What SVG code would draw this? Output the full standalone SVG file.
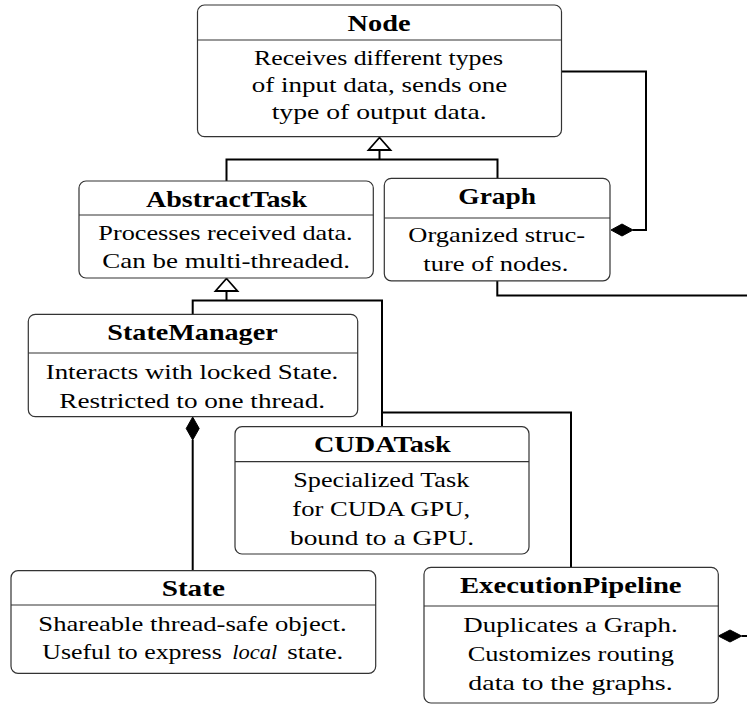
<svg xmlns="http://www.w3.org/2000/svg" width="747" height="704" viewBox="0 0 747 704">
<style>
.box{fill:#fff;stroke:#333;stroke-width:1.2}
.div{stroke:#333;stroke-width:1.2}
.t{font-family:'Liberation Serif','Times New Roman','DejaVu Serif',serif;font-weight:bold;font-size:23px;text-anchor:middle;fill:#000}
.b{font-family:'Liberation Serif','Times New Roman','DejaVu Serif',serif;font-size:21px;text-anchor:middle;fill:#000}
.s{font-family:'Liberation Serif','Times New Roman','DejaVu Serif',serif;font-size:21px;fill:#000}
.i{font-style:italic}
.c{fill:none;stroke:#000;stroke-width:2}
.tri{fill:#fff;stroke:#000;stroke-width:1.8;stroke-linejoin:miter}
.dia{fill:#000;stroke:#000;stroke-width:1}
</style>
<rect width="747" height="704" fill="#fff"/>
<g id="connectors">
<path class="c" d="M226.5,181 V159.5 H497.5 V178.3"/>
<path class="c" d="M379.5,159.5 V150"/>
<polygon class="tri" points="379.5,137.5 368.5,150 390.5,150"/>
<path class="c" d="M192.7,314.3 V300.5 H382 V426.7"/>
<path class="c" d="M382,412.5 H571 V567.3"/>
<path class="c" d="M226.5,300.5 V291"/>
<polygon class="tri" points="226.5,278.5 215.5,291 237.5,291"/>
<path class="c" d="M561.5,71.5 H646 V230 H633"/>
<polygon class="dia" points="611,230 622,224 633,230 622,236"/>
<polygon class="dia" points="192.7,417 199.2,428.5 192.7,440 186.2,428.5"/>
<path class="c" d="M192.7,440 V570.7"/>
<path class="c" d="M497.3,281 V295.5 H747"/>
<polygon class="dia" points="718.3,636 730,630 741.7,636 730,642"/>
<path class="c" d="M741.7,636 H747"/>
</g>
<g id="node-Node">
<rect class="box" x="197.5" y="5" width="364" height="131.7" rx="7"/>
<line class="div" x1="197.5" y1="40" x2="561.5" y2="40"/>
<text class="t" x="379" y="30.7" textLength="63" lengthAdjust="spacingAndGlyphs">Node</text>
<text class="b" x="378.5" y="64.5" textLength="249" lengthAdjust="spacingAndGlyphs">Receives different types</text>
<text class="b" x="379.5" y="91.5" textLength="255.6" lengthAdjust="spacingAndGlyphs">of input data, sends one</text>
<text class="b" x="379.2" y="119" textLength="215" lengthAdjust="spacingAndGlyphs">type of output data.</text>
</g>
<g id="node-AbstractTask">
<rect class="box" x="79" y="181" width="294.3" height="97" rx="7"/>
<line class="div" x1="79" y1="215" x2="373.3" y2="215"/>
<text class="t" x="226.5" y="206.7" textLength="161" lengthAdjust="spacingAndGlyphs">AbstractTask</text>
<text class="b" x="225.5" y="240" textLength="254.4" lengthAdjust="spacingAndGlyphs">Processes received data.</text>
<text class="b" x="226.2" y="268.3" textLength="247.7" lengthAdjust="spacingAndGlyphs">Can be multi-threaded.</text>
</g>
<g id="node-Graph">
<rect class="box" x="384.3" y="178.3" width="225.7" height="102.5" rx="7"/>
<line class="div" x1="384.3" y1="218" x2="610" y2="218"/>
<text class="t" x="497.2" y="204" textLength="77.7" lengthAdjust="spacingAndGlyphs">Graph</text>
<text class="b" x="496.7" y="242" textLength="176.7" lengthAdjust="spacingAndGlyphs">Organized struc-</text>
<text class="b" x="495.8" y="270.5" textLength="145" lengthAdjust="spacingAndGlyphs">ture of nodes.</text>
</g>
<g id="node-StateManager">
<rect class="box" x="28.3" y="314.3" width="329.4" height="102.4" rx="7"/>
<line class="div" x1="28.3" y1="353" x2="357.7" y2="353"/>
<text class="t" x="192.5" y="340" textLength="170.4" lengthAdjust="spacingAndGlyphs">StateManager</text>
<text class="b" x="192" y="379" textLength="292.6" lengthAdjust="spacingAndGlyphs">Interacts with locked State.</text>
<text class="b" x="192.2" y="408.3" textLength="265.7" lengthAdjust="spacingAndGlyphs">Restricted to one thread.</text>
</g>
<g id="node-CUDATask">
<rect class="box" x="235" y="426.7" width="294" height="127.3" rx="7"/>
<line class="div" x1="235" y1="461.7" x2="529" y2="461.7"/>
<text class="t" x="382.3" y="452.3" textLength="136.7" lengthAdjust="spacingAndGlyphs">CUDATask</text>
<text class="b" x="381.3" y="486.7" textLength="176" lengthAdjust="spacingAndGlyphs">Specialized Task</text>
<text class="b" x="381.2" y="515.5" textLength="177.7" lengthAdjust="spacingAndGlyphs">for CUDA GPU,</text>
<text class="b" x="382" y="545" textLength="184" lengthAdjust="spacingAndGlyphs">bound to a GPU.</text>
</g>
<g id="node-ExecutionPipeline">
<rect class="box" x="424" y="567.3" width="294.3" height="135.7" rx="7"/>
<line class="div" x1="424" y1="606" x2="718.3" y2="606"/>
<text class="t" x="570.8" y="593.3" textLength="221.7" lengthAdjust="spacingAndGlyphs">ExecutionPipeline</text>
<text class="b" x="570.5" y="632.3" textLength="214.3" lengthAdjust="spacingAndGlyphs">Duplicates a Graph.</text>
<text class="b" x="570.8" y="661" textLength="206.3" lengthAdjust="spacingAndGlyphs">Customizes routing</text>
<text class="b" x="570.5" y="689.5" textLength="204.3" lengthAdjust="spacingAndGlyphs">data to the graphs.</text>
</g>
<g id="node-State">
<rect class="box" x="11" y="570.7" width="364.7" height="102.6" rx="7"/>
<line class="div" x1="11" y1="605" x2="375.7" y2="605"/>
<text class="t" x="193.3" y="596" textLength="63.3" lengthAdjust="spacingAndGlyphs">State</text>
<text class="b" x="192.5" y="630.7" textLength="308.3" lengthAdjust="spacingAndGlyphs">Shareable thread-safe object.</text>
<text class="s" x="42.3" y="659.3" textLength="179.4" lengthAdjust="spacingAndGlyphs">Useful to express</text>
<text class="s i" x="232.3" y="659.3" textLength="45" lengthAdjust="spacingAndGlyphs">local</text>
<text class="s" x="287.3" y="659.3" textLength="56" lengthAdjust="spacingAndGlyphs">state.</text>
</g>
</svg>
